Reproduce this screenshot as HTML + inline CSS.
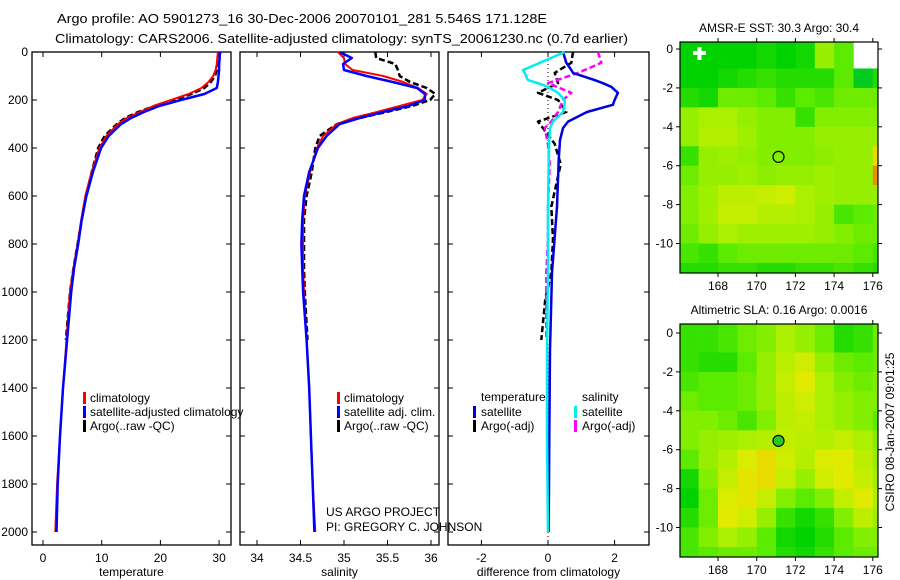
<!DOCTYPE html>
<html><head><meta charset="utf-8">
<style>
html,body{margin:0;padding:0;background:#fff;}
svg{display:block;font-family:"Liberation Sans",Arial,sans-serif;}
text{fill:#000;}
</style></head>
<body>
<svg id="fig" width="900" height="580" viewBox="0 0 900 580" xmlns="http://www.w3.org/2000/svg">
<rect width="900" height="580" fill="#fff"/>
<text x="57" y="23" font-size="13" textLength="490" lengthAdjust="spacingAndGlyphs">Argo profile: AO 5901273_16 30-Dec-2006 20070101_281 5.546S 171.128E</text>
<text x="55" y="43" font-size="13" textLength="573" lengthAdjust="spacingAndGlyphs">Climatology: CARS2006. Satellite-adjusted climatology: synTS_20061230.nc (0.7d earlier)</text>
<g id="plots"></g>
<text transform="translate(894,432) rotate(-90)" text-anchor="middle" font-size="12">CSIRO 08-Jan-2007 09:01:25</text>
</svg>
<script>
// ---------- profile data ----------
const depths = [0,25,50,75,100,125,150,175,200,225,250,275,300,350,400,500,600,700,800,900,1000,1200,1400,1600,1800,2000];
const tempClim = [29.8,29.7,29.6,29.4,29.0,28.2,27.0,24.8,21.8,18.8,16.5,14.3,12.8,10.8,9.6,8.3,7.2,6.5,5.9,5.2,4.6,4.0,3.4,2.9,2.4,2.1];
const tempSat  = [30.1,30.1,30.0,30.0,29.9,29.8,29.6,27.5,23.5,19.8,17.2,15.0,13.3,11.2,9.9,8.5,7.4,6.6,6.0,5.3,4.8,4.1,3.4,2.9,2.5,2.3];
const argoDepths = [0,25,50,75,100,125,150,175,200,225,250,275,300,350,400,500,600,700,800,900,1000,1200];
const tempArgo = [30.2,30.0,29.8,29.6,29.3,28.6,27.5,25.3,22.3,19.0,16.2,14.0,12.6,10.5,9.4,8.3,7.3,6.6,5.9,5.2,4.6,3.9];
const salClim = [34.93,35.0,35.01,35.1,35.45,35.68,35.85,35.95,35.9,35.64,35.38,35.1,34.92,34.76,34.69,34.61,34.55,34.53,34.53,34.53,34.54,34.57,34.6,34.62,34.64,34.67];
const salSat  = [34.95,35.09,34.99,35.0,35.26,35.56,35.84,35.93,35.93,35.74,35.45,35.18,34.95,34.8,34.7,34.6,34.54,34.52,34.51,34.52,34.53,34.57,34.6,34.62,34.64,34.66];
const salArgo = [35.36,35.37,35.59,35.62,35.64,35.76,35.95,36.05,35.99,35.78,35.49,35.18,34.92,34.72,34.67,34.63,34.57,34.54,34.54,34.54,34.55,34.58];
const diffDepths = [0,45,75,87,117,130,145,170,200,220,250,290,317,367,450,645,920,1240,1600,2000];
const dTempSat = [0.45,0.55,0.7,0.75,1.4,1.65,1.9,2.1,2.0,1.95,1.17,0.6,0.45,0.36,0.32,0.27,0.12,0.06,0.04,0.02];
const dSalSat  = [0.5,-0.24,-0.75,-0.7,-0.6,-0.3,0.0,0.3,0.5,0.5,0.45,0.15,0.06,0.04,0.02,0.0,0.0,-0.03,-0.03,0.0];
const argoDiffDepths = [0,45,87,130,170,200,250,290,317,383,467,645,780,920,1030,1200];
const dTempArgo = [0.75,0.7,0.2,0.3,-0.3,0.3,0.55,-0.3,-0.15,0.2,0.38,0.1,0.15,0.1,-0.08,-0.2];
const dSalArgo  = [1.5,1.6,0.9,0.0,0.7,0.45,0.3,0.1,-0.1,0.0,0.05,0.0,0.0,-0.05,-0.05,-0.05];
const tempTicks = [0,10,20,30];
const salTicks = [34,34.5,35,35.5,36];
const diffTicks = [-2,0,2];
const depthTicks = [0,200,400,600,800,1000,1200,1400,1600,1800,2000];
// ---------- map data (1-degree cells, rows lat 0..-12, cols lon 166..177) ----------
const mapLons = [166,167,168,169,170,171,172,173,174,175,176];
const mapLats = [0.36,-1,-2,-3,-4,-5,-6,-7,-8,-9,-10,-11];
const sstGrid = [
 [0.2,0.2,0.2,0.2,0.25,0.2,0.25,0.6,0.45,null,null],
 [0.2,0.2,0.25,0.3,0.35,0.3,0.3,0.3,0.45,0.15,0.3],
 [0.3,0.25,0.5,0.5,0.45,0.35,0.45,0.4,0.5,0.5,0.5],
 [0.6,0.65,0.65,0.6,0.55,0.55,0.35,0.55,0.55,0.55,0.55],
 [0.6,0.68,0.68,0.62,0.55,0.55,0.55,0.6,0.6,0.6,0.6],
 [0.35,0.6,0.62,0.6,0.55,0.55,0.55,0.58,0.6,0.6,0.85],
 [0.5,0.6,0.6,0.62,0.58,0.6,0.6,0.62,0.6,0.6,0.95],
 [0.55,0.62,0.7,0.7,0.72,0.75,0.65,0.62,0.6,0.6,0.6],
 [0.55,0.62,0.72,0.72,0.68,0.68,0.65,0.6,0.4,0.45,0.5],
 [0.5,0.6,0.65,0.62,0.62,0.62,0.62,0.6,0.55,0.5,0.5],
 [0.4,0.35,0.45,0.5,0.5,0.5,0.5,0.5,0.5,0.45,0.4],
 [0.3,0.3,0.35,0.35,0.3,0.3,0.35,0.35,0.4,0.35,0.3]];
const slaGrid = [
 [0.35,0.35,0.4,0.5,0.55,0.65,0.6,0.5,0.3,0.35,0.5],
 [0.35,0.3,0.3,0.45,0.6,0.7,0.75,0.6,0.5,0.45,0.5],
 [0.4,0.45,0.45,0.5,0.6,0.72,0.8,0.65,0.55,0.5,0.55],
 [0.5,0.45,0.45,0.5,0.6,0.7,0.75,0.65,0.6,0.55,0.55],
 [0.55,0.55,0.5,0.4,0.55,0.7,0.72,0.65,0.6,0.55,0.45],
 [0.55,0.6,0.62,0.65,0.68,0.72,0.7,0.68,0.72,0.65,0.55],
 [0.45,0.6,0.68,0.78,0.85,0.75,0.68,0.78,0.8,0.7,0.6],
 [0.25,0.55,0.72,0.82,0.85,0.72,0.6,0.75,0.8,0.72,0.62],
 [0.2,0.5,0.78,0.82,0.72,0.55,0.45,0.55,0.72,0.8,0.65],
 [0.3,0.5,0.8,0.75,0.6,0.35,0.25,0.35,0.55,0.7,0.62],
 [0.4,0.55,0.65,0.6,0.45,0.25,0.2,0.3,0.45,0.55,0.55],
 [0.4,0.45,0.5,0.5,0.45,0.3,0.25,0.35,0.45,0.5,0.5]];
const lonTicks = [168,170,172,174,176];
const latTicks = [0,-2,-4,-6,-8,-10];
const floatLon = 171.128, floatLat = -5.546;

const NS = "http://www.w3.org/2000/svg";
const root = document.getElementById('plots');
function mk(tag, attrs, parent){const e=document.createElementNS(NS,tag);for(const k in attrs)e.setAttribute(k,attrs[k]);(parent||root).appendChild(e);return e;}
function txt(x,y,s,size,anchor,parent){const t=mk('text',{x:x,y:y,'font-size':size,'text-anchor':anchor||'start'},parent);t.textContent=s;return t;}

// depth axis: 0 -> y52, 2000 -> y532
const yD = d => 52 + d*0.24;
const panels = [
 {name:'temperature', x0:32, x1:231, sx:v=>43+v*5.87, ticks:tempTicks, label:'temperature'},
 {name:'salinity', x0:240, x1:439, sx:v=>257+(v-34)*87, ticks:salTicks, label:'salinity'},
 {name:'difference', x0:448, x1:649, sx:v=>548+v*33.3, ticks:diffTicks, label:'difference from climatology'}];
const Y0=52, Y1=545;
panels.forEach((p,i)=>{
  const g = mk('g',{});
  
  
  p.g = g;
  const fr = mk('rect',{x:p.x0,y:Y0,width:p.x1-p.x0,height:Y1-Y0,fill:'none',stroke:'#000','stroke-width':1.3},g);
  
  
  p.ticks.forEach(t=>{
    const x=p.sx(t);
    mk('line',{x1:x,x2:x,y1:Y1,y2:Y1-5,stroke:'#000'},g);
    mk('line',{x1:x,x2:x,y1:Y0,y2:Y0+5,stroke:'#000'},g);
    const tl = txt(x,562,String(t),12,'middle',g);
    
    
  });
  depthTicks.forEach(d=>{
    const y=yD(d);
    mk('line',{x1:p.x0,x2:p.x0+5,y1:y,y2:y,stroke:'#000'},g);
    mk('line',{x1:p.x1,x2:p.x1-5,y1:y,y2:y,stroke:'#000'},g);
    if(i===0){
      const yl = txt(28,y+4,String(d),12,'end',g);
      
      
    }
  });
  const at = txt((p.x0+p.x1)/2,576,p.label,12,'middle',g);
  
  
});
function line(p, ds, vs, color, w, dash, name){
  const pts = ds.map((d,k)=>p.sx(vs[k]).toFixed(1)+','+yD(d).toFixed(1)).join(' ');
  const l = mk('polyline',{points:pts,fill:'none',stroke:color,'stroke-width':w,'stroke-dasharray':dash||'none','stroke-linejoin':'round'},p.g);
  
  
}
const [pT,pS,pD]=panels;
line(pT,argoDepths,tempArgo,'#000',2.5,'6,3','temp-argo-line');
line(pT,depths,tempClim,'#f00',2,null,'temp-climatology-line');
line(pT,depths,tempSat,'#00f',2.5,null,'temp-satellite-line');
line(pS,argoDepths,salArgo,'#000',2.5,'6,3','sal-argo-line');
line(pS,depths,salClim,'#f00',2,null,'sal-climatology-line');
line(pS,depths,salSat,'#00f',2.5,null,'sal-satellite-line');
mk('line',{x1:pD.sx(0),x2:pD.sx(0),y1:Y0,y2:Y1,stroke:'#000','stroke-dasharray':'1,3'},pD.g);
line(pD,argoDiffDepths,dTempArgo,'#000',2.5,'6,3','diff-temp-argo-line');
line(pD,argoDiffDepths,dSalArgo,'#f0f',2.5,'6,3','diff-sal-argo-line');
line(pD,diffDepths,dTempSat,'#00d',2.5,null,'diff-temp-satellite-line');
line(pD,diffDepths,dSalSat,'#0ee',2.5,null,'diff-sal-satellite-line');

function legend(g, mx, tx, y, color, label, name){
  const m = mk('rect',{x:mx,y:y-10,width:3,height:12,fill:color},g);
  
  
  const t = txt(tx,y,label,12,'start',g);
  
  
}
legend(pT.g,83,90,402,'#f00','climatology','legend-temp-climatology');
legend(pT.g,83,90,416,'#00f','satellite-adjusted climatology','legend-temp-satellite');
legend(pT.g,83,90,430,'#000','Argo(..raw -QC)','legend-temp-argo');
legend(pS.g,337,344,402,'#f00','climatology','legend-sal-climatology');
legend(pS.g,337,344,416,'#00f','satellite adj. clim.','legend-sal-satellite');
legend(pS.g,337,344,430,'#000','Argo(..raw -QC)','legend-sal-argo');
let t1 = txt(481,401,'temperature',12,'start',pD.g);


let t2 = txt(582,401,'salinity',12,'start',pD.g);


legend(pD.g,473,481,416,'#00d','satellite','legend-diff-temp-satellite');
legend(pD.g,473,481,430,'#000','Argo(-adj)','legend-diff-temp-argo');
legend(pD.g,574,582,416,'#0ee','satellite','legend-diff-sal-satellite');
legend(pD.g,574,582,430,'#f0f','Argo(-adj)','legend-diff-sal-argo');
let c1 = txt(326,516,'US ARGO PROJECT',12,'start');


let c2 = txt(326,531,'PI: GREGORY C. JOHNSON',12,'start');



// ---------- maps ----------
const stops=[[0,[0,180,120]],[0.2,[0,210,0]],[0.45,[90,235,0]],[0.65,[170,240,0]],[0.8,[225,235,0]],[0.9,[240,200,0]],[1,[220,90,0]]];
function cmap(v){for(let i=1;i<stops.length;i++){if(v<=stops[i][0]){const a=stops[i-1],b=stops[i],f=(v-a[0])/(b[0]-a[0]);const c=a[1].map((x,k)=>Math.round(x+(b[1][k]-x)*f));return 'rgb('+c+')';}}return 'rgb(220,90,0)';}
function drawMap(name, title, grid, x0,x1,y0,y1, lat0y, filled){
  const g = mk('g',{});
  
  
  const sx = lon => 718 + (lon-168)*19.35;
  const sy = lat => lat0y - lat*19.45;
  const clip = mk('clipPath',{id:'clip-'+name},g);
  mk('rect',{x:x0,y:y0,width:x1-x0,height:y1-y0},clip);
  const cells = mk('g',{'clip-path':'url(#clip-'+name+')'},g);
  grid.forEach((row,r)=>row.forEach((v,c)=>{
    if(v===null) return;
    const lonA = mapLons[c], latTop = mapLats[r];
    const latBot = r===0? -1 : mapLats[r]-1;
    const top = r===0? y0 : sy(latTop);
    const cell = mk('rect',{x:sx(lonA),y:top,width:19.6,height:sy(latBot)-top+0.4,fill:cmap(v)},cells);
    
    
  }));
  mk('rect',{x:x0,y:y0,width:x1-x0,height:y1-y0,fill:'none',stroke:'#000','stroke-width':1.2},g);
  lonTicks.forEach(l=>{const x=sx(l);
    mk('line',{x1:x,x2:x,y1:y1,y2:y1+4,stroke:'#000'},g);
    mk('line',{x1:x,x2:x,y1:y0,y2:y0-4,stroke:'#000'},g);
    const tl = txt(x,y1+17,String(l),12,'middle',g);
    
    
  });
  latTicks.forEach(l=>{const y=sy(l);
    mk('line',{x1:x0,x2:x0-4,y1:y,y2:y,stroke:'#000'},g);
    mk('line',{x1:x1,x2:x1+4,y1:y,y2:y,stroke:'#000'},g);
    const tl = txt(x0-7,y+4,String(l),12,'end',g);
    
    
  });
  const tt = txt((x0+x1)/2,y0-10,title,12,'middle',g);
  
  
  const mkr = mk('circle',{cx:sx(floatLon),cy:sy(floatLat),r:5.5,fill:filled?'rgb(40,200,40)':'none',stroke:'#000','stroke-width':1.2},g);
  
  
}
drawMap('sst','AMSR-E SST: 30.3 Argo: 30.4',sstGrid,680,878,42,273,49,false);
drawMap('sla','Altimetric SLA: 0.16 Argo: 0.0016',slaGrid,680,878,324,557,333,true);
// small white cross on SST map
const cr = mk('path',{d:'M693 53h13M699.5 47v13',stroke:'#fff','stroke-width':4});


</script>
</body></html>
